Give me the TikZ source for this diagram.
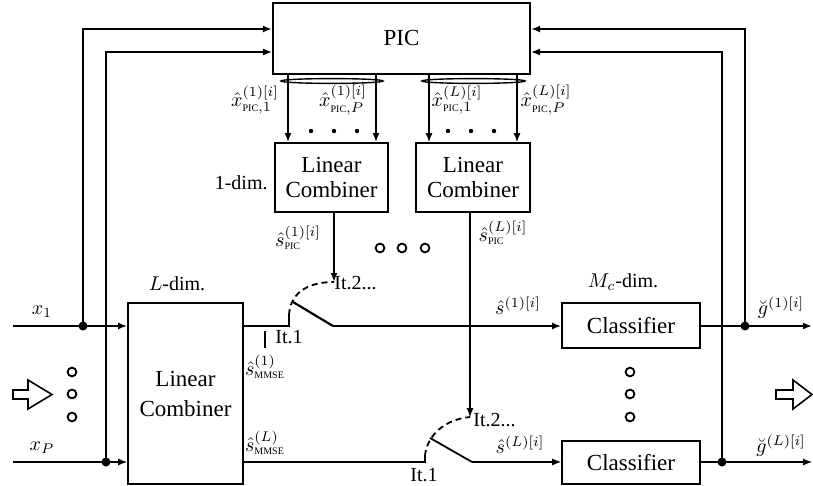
\documentclass[tikz,border=0pt]{standalone}
\usepackage{amsmath}
\usepackage{fontspec}
\setmainfont{Liberation Serif}
\usetikzlibrary{arrows.meta,calc}
\newcommand{\PICs}{\text{\tiny PIC}}
\newcommand{\MMSEs}{\text{\tiny MMSE}}
\begin{document}
\begin{tikzpicture}[x=0.5pt,y=-0.5pt,
  box/.style={draw,line width=0.9pt,inner sep=0pt,font=\fontsize{11.5}{12.5}\selectfont,align=center},
  thk/.style={line width=1.1pt},
  thn/.style={line width=0.55pt},
  arr/.style={-{Latex[length=4.5pt,width=3.5pt]}},
  dot/.style={circle,fill,inner sep=0pt,minimum size=4.5pt},
  lbl/.style={font=\fontsize{10}{12}\selectfont,inner sep=0pt},
  ring/.style={line width=0.9pt},
  swdash/.style={line width=0.9pt,dash pattern=on 3pt off 2pt},
  hollow/.style={line width=0.8pt,line join=miter},
]
\useasboundingbox (0,0) rectangle (813,486);

% blocks
\node[box,line width=1.1pt,minimum width=128.5pt,minimum height=35.5pt] (pic) at (401.5,38.5) {PIC};
\node[box,minimum width=56.5pt,minimum height=34.5pt] (lc1) at (331.5,177.5) {Linear\\Combiner};
\node[box,minimum width=57pt,minimum height=34.5pt] (lc2) at (473,177.5) {Linear\\Combiner};
\node[box,minimum width=57.5pt,minimum height=90.5pt,font=\fontsize{11.5}{15}\selectfont] (blc) at (185.5,393.5) {Linear\\Combiner};
\node[box,minimum width=69pt,minimum height=22.5pt] (cl1) at (631,325.5) {Classifier};
\node[box,minimum width=69pt,minimum height=21.5pt] (clL) at (631,462.5) {Classifier};

% inputs
\coordinate (x1s) at (13,326);
\coordinate (xPs) at (13,462);
\draw[thk,arr] (x1s) -- (x1s -| blc.west);
\draw[thn,arr] (xPs) -- (xPs -| blc.west);
\node[lbl] (lx1) at (42,312) {$x_1$};
\node[lbl] (lxP) at (42,448) {$x_P$};

% left feedback to PIC
\node[dot] (d1) at (83,326) {};
\coordinate (c1) at (83,29);
\draw[thk,arr] (d1.center) -- (c1) -- (c1 -| pic.west);
\node[dot] (dP) at (106,462) {};
\coordinate (cP) at (106,52);
\draw[thn,arr] (dP.center) -- (cP) -- (cP -| pic.west);

% right feedback to PIC
\node[dot] (r1) at (745,326) {};
\coordinate (cr1) at (745,29);
\draw[thk,arr] (r1.center) -- (cr1) -- (cr1 -| pic.east);
\node[dot] (rL) at (722,462) {};
\coordinate (crL) at (722,52);
\draw[thn,arr] (rL.center) -- (crL) -- (crL -| pic.east);

% outputs
\coordinate (o1) at (812,326);
\coordinate (oL) at (812,462);
\draw[thk,arr] (o1 -| cl1.east) -- (o1);
\draw[thn,arr] (oL -| clL.east) -- (oL);
\node[lbl] (lg1) at (781,308) {$\breve{g}^{(1)[i]}$};
\node[lbl] (lgL) at (781,446) {$\breve{g}^{(L)[i]}$};

% PIC -> linear combiners
\coordinate (a11) at (288,0);
\coordinate (a1P) at (376,0);
\coordinate (aL1) at (429,0);
\coordinate (aLP) at (517,0);
\draw[thk,arr] (pic.south -| a11) -- (lc1.north -| a11);
\draw[thk,arr] (pic.south -| a1P) -- (lc1.north -| a1P);
\draw[thn,arr] (pic.south -| aL1) -- (lc2.north -| aL1);
\draw[thn,arr] (pic.south -| aLP) -- (lc2.north -| aLP);
\draw[line width=0.7pt] (332,81) ellipse [x radius=25.5pt, y radius=1.2pt];
\draw[line width=0.7pt] (473.5,81) ellipse [x radius=25.8pt, y radius=1.2pt];
\foreach \x in {311,334,357,448,471,494} \fill (\x,131) circle (1.1pt);
\node[lbl] (lx11) at (255,100) {$\hat{x}^{(1)[i]}_{\PICs,1}$};
\node[lbl] (lx1P) at (343,100) {$\hat{x}^{(1)[i]}_{\PICs,P}$};
\node[lbl] (lxL1) at (457,100) {$\hat{x}^{(L)[i]}_{\PICs,1}$};
\node[lbl] (lxLP) at (546,100) {$\hat{x}^{(L)[i]}_{\PICs,P}$};
\node[lbl,anchor=east] (l1d) at (268,183) {1-dim.};
\node[lbl] (lLd) at (177,284) {$L$-dim.};
\node[lbl] (lMd) at (623,282) {$M_c$-dim.};

% PIC outputs of the linear combiners
\node[lbl] (ls1) at (298,238) {$\hat{s}^{(1)[i]}_{\PICs}$};
\node[lbl] (lsL) at (503,233) {$\hat{s}^{(L)[i]}_{\PICs}$};
\foreach \x in {380,402,425} \draw[ring] (\x,248) circle (2.2pt);

% switch 1
\coordinate (t1) at (334,282);
\coordinate (s1a) at (289,326);
\coordinate (s1b) at (289,315);
\coordinate (s1p) at (293,302);
\coordinate (s1e) at (333,326);
\draw[thk,arr] (lc1.south -| t1) -- (t1);
\draw[thk] (s1a -| blc.east) -- (s1a) -- (s1b);
\draw[swdash] (s1b) .. controls (290,295) and (305,282) .. (t1);
\draw[thk] (s1p) -- (s1e);
\draw[thk,arr] (s1e) -- (s1e -| cl1.west);
\node[lbl,anchor=west] (it21) at (334,283) {It.2...};
\node[lbl] (it11) at (289,337) {It.1};
\coordinate (pt1) at (265,331);
\coordinate (pt2) at (265,348);
\draw[thn] (pt1) -- (pt2);
\node[lbl] (lm1) at (265,367) {$\hat{s}^{(1)}_{\MMSEs}$};
\node[lbl] (lmL) at (265,443) {$\hat{s}^{(L)}_{\MMSEs}$};
\node[lbl] (lsh1) at (518,306) {$\hat{s}^{(1)[i]}$};

% switch L
\coordinate (tL) at (470,417);
\coordinate (sLa) at (425,462);
\coordinate (sLb) at (425,456);
\coordinate (sLp) at (430,438);
\coordinate (sLe) at (472,462);
\draw[thn,arr] (lc2.south -| tL) -- (tL);
\draw[thn] (sLa -| blc.east) -- (sLa) -- (sLb);
\draw[swdash] (sLb) .. controls (426,440) and (440,420) .. (tL);
\draw[line width=0.9pt] (sLp) -- (sLe);
\draw[thn,arr] (sLe) -- (sLe -| clL.west);
\node[lbl,anchor=west] (it2L) at (473,420) {It.2...};
\node[lbl] (it1L) at (424,475) {It.1};
\node[lbl] (lshL) at (520,445) {$\hat{s}^{(L)[i]}$};

% ellipsis rings
\foreach \y in {372,394,417} {
  \draw[ring] (72,\y) circle (2.2pt);
  \draw[ring] (630,\y) circle (2.2pt);
}

% hollow arrows
\draw[hollow] (13,390) -- (28,390) -- (28,380) -- (52,394.5) -- (28,409) -- (28,399) -- (13,399) -- cycle;
\draw[hollow] (776,390) -- (793,390) -- (793,380) -- (812,394.5) -- (793,409) -- (793,399) -- (776,399) -- cycle;
\end{tikzpicture}
\end{document}
